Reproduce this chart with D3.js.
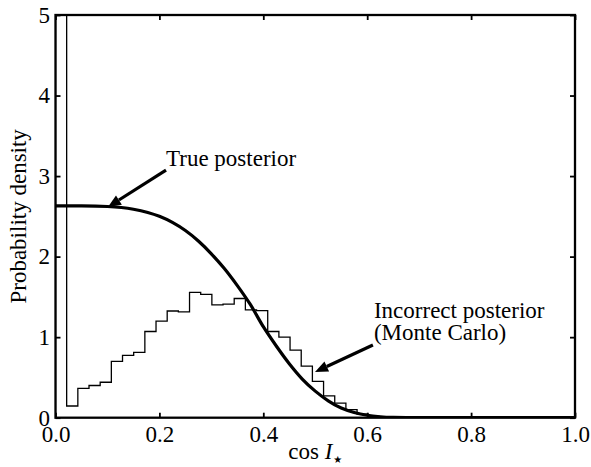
<!DOCTYPE html>
<html>
<head>
<meta charset="utf-8">
<script src="https://cdn.jsdelivr.net/npm/d3@7"></script>
<style>
  html, body { margin: 0; padding: 0; background: #fff; }
  svg { display: block; }
</style>
</head>
<body>
<svg id="chart" width="591" height="467"></svg>
<script>
// ---- data ----
const xTicks = [0, 0.2, 0.4, 0.6, 0.8, 1.0];
const yTicks = [0, 1, 2, 3, 4, 5];
const xTickLabels = ["0.0", "0.2", "0.4", "0.6", "0.8", "1.0"];
const yTickLabels = ["0", "1", "2", "3", "4", "5"];

// Monte Carlo histogram (incorrect posterior): bin width and heights
const binWidth = 0.0215;
const histHeights = [6.0, 0.145, 0.365, 0.40, 0.44, 0.70, 0.775, 0.81, 1.07, 1.20,
  1.325, 1.315, 1.555, 1.53, 1.40, 1.41, 1.48, 1.34, 1.33, 1.07,
  1.00, 0.84, 0.64, 0.45, 0.27, 0.18, 0.10, 0.045, 0.015, 0.005, 0, 0];

// True posterior curve
const curveX = [0, 0.05, 0.1, 0.15, 0.2, 0.225, 0.25, 0.275, 0.3, 0.325, 0.35, 0.375,
  0.4, 0.425, 0.45, 0.475, 0.5, 0.525, 0.55, 0.575, 0.6, 0.625, 0.65, 0.7, 0.8, 1.0];
const curveY = [2.63, 2.629, 2.622, 2.588, 2.50, 2.425, 2.324, 2.194, 2.035, 1.852, 1.640, 1.406,
  1.13, 0.89, 0.67, 0.48, 0.33, 0.21, 0.12, 0.065, 0.03, 0.012, 0.004, 0, 0, 0];

// annotations (data coordinates)
const annTrue = { text: ["True posterior"], tx: 0.2127, ty: 3.125, from: [0.2127, 3.075], to: [0.101, 2.616] };
const annMC = { text: ["Incorrect posterior", "(Monte Carlo)"], tx: 0.613, ty: 1.24, from: [0.611, 0.903], to: [0.4995, 0.568] };

// ---- layout ----
const FONT = '"Liberation Serif", "Times New Roman", Times, "DejaVu Serif", "Noto Serif", serif';
const svg = d3.select("#chart");
const m = { left: 55.5, right: 575, top: 15, bottom: 417.7 };
const x = d3.scaleLinear().domain([0, 1]).range([m.left, m.right]);
const y = d3.scaleLinear().domain([0, 5]).range([m.bottom, m.top]);
const FS = 23;

svg.append("defs").append("clipPath").attr("id", "clip")
  .append("rect").attr("x", m.left).attr("y", m.top)
  .attr("width", m.right - m.left).attr("height", m.bottom - m.top);

// histogram as a step path
const hp = d3.path();
hp.moveTo(x(0), y(0));
histHeights.forEach((h, i) => {
  hp.lineTo(x(i * binWidth), y(h));
  hp.lineTo(x((i + 1) * binWidth), y(h));
});
svg.append("path").attr("d", hp.toString())
  .attr("clip-path", "url(#clip)")
  .attr("fill", "none").attr("stroke", "#000").attr("stroke-width", 1.3);

// true posterior curve
const line = d3.line().x((d, i) => x(curveX[i])).y((d, i) => y(curveY[i])).curve(d3.curveMonotoneX);
svg.append("path").datum(curveY).attr("d", line)
  .attr("clip-path", "url(#clip)")
  .attr("fill", "none").attr("stroke", "#000").attr("stroke-width", 3.2);

// axes
function styleAxis(g) {
  g.attr("font-family", FONT).attr("font-size", FS);
  g.select(".domain").remove();
  g.selectAll(".tick line").attr("stroke", "#000").attr("stroke-width", 1.8);
  g.selectAll(".tick text").attr("font-family", FONT).attr("font-size", FS).attr("fill", "#000");
}
svg.append("g").attr("transform", `translate(0,${m.bottom})`)
  .call(d3.axisBottom(x).tickValues(xTicks).tickFormat((d, i) => xTickLabels[i]).tickSizeInner(-5).tickSizeOuter(0).tickPadding(7.7))
  .call(styleAxis);
svg.append("g").attr("transform", `translate(0,${m.top})`)
  .call(d3.axisTop(x).tickValues(xTicks).tickFormat("").tickSizeInner(-5).tickSizeOuter(0))
  .call(styleAxis);
svg.append("g").attr("transform", `translate(${m.left},0)`)
  .call(d3.axisLeft(y).tickValues(yTicks).tickFormat((d, i) => yTickLabels[i]).tickSizeInner(-5).tickSizeOuter(0).tickPadding(5.5))
  .call(styleAxis);
svg.append("g").attr("transform", `translate(${m.right},0)`)
  .call(d3.axisRight(y).tickValues(yTicks).tickFormat("").tickSizeInner(-5).tickSizeOuter(0))
  .call(styleAxis);

// frame
svg.append("rect").attr("x", m.left).attr("y", m.top)
  .attr("width", m.right - m.left).attr("height", m.bottom - m.top)
  .attr("fill", "none").attr("stroke", "#000").attr("stroke-width", 2.3);

// axis titles
const xt = svg.append("text").attr("x", (m.left + m.right) / 2).attr("y", 459)
  .attr("text-anchor", "middle").attr("font-size", FS).attr("font-family", FONT);
xt.append("tspan").text("cos ");
xt.append("tspan").attr("font-style", "italic").text("I");
xt.append("tspan").attr("font-size", 10).attr("dy", 4).attr("dx", 1).attr("font-family", "DejaVu Sans").text("★");

svg.append("text").attr("transform", `translate(26,${(m.top + m.bottom) / 2}) rotate(-90)`)
  .attr("text-anchor", "middle").attr("font-size", FS).attr("font-family", FONT).text("Probability density");

// annotations
function arrow(a) {
  const x1 = x(a.from[0]), y1 = y(a.from[1]), x2 = x(a.to[0]), y2 = y(a.to[1]);
  const ang = Math.atan2(y2 - y1, x2 - x1);
  const L = 13, W = 5.5;
  const bx = x2 - L * Math.cos(ang), by = y2 - L * Math.sin(ang);
  svg.append("line").attr("x1", x1).attr("y1", y1).attr("x2", bx).attr("y2", by)
    .attr("stroke", "#000").attr("stroke-width", 3.2);
  const px = -Math.sin(ang), py = Math.cos(ang);
  svg.append("path")
    .attr("d", `M${x2},${y2}L${bx + W * px},${by + W * py}L${bx - W * px},${by - W * py}Z`)
    .attr("fill", "#000");
  const t = svg.append("text").attr("x", x(a.tx)).attr("y", y(a.ty)).attr("font-size", FS).attr("font-family", FONT);
  a.text.forEach((s, i) => t.append("tspan").attr("x", x(a.tx)).attr("dy", i === 0 ? 0 : 22.5).text(s));
}
arrow(annTrue);
arrow(annMC);
</script>
</body>
</html>
